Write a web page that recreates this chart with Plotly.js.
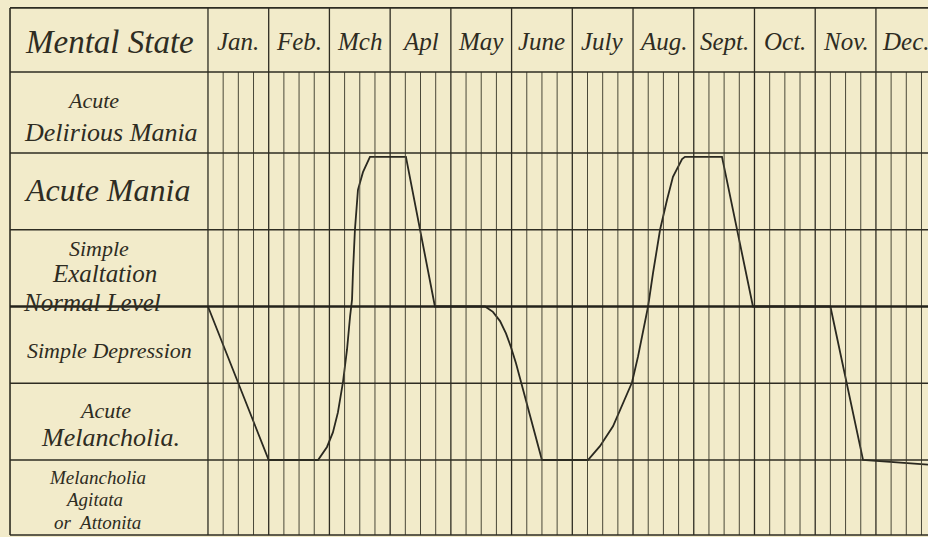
<!DOCTYPE html>
<html>
<head>
<meta charset="utf-8">
<script src="https://cdn.plot.ly/plotly-3.0.1.min.js"></script>
<style>
html,body{margin:0;padding:0;background:#f2ebca;}
#chart{width:928px;height:537px;}
</style>
</head>
<body>
<div id="chart"></div>
<script>
// ---- data (x = weeks from start of January, y = mental-state level; 0 = Normal Level) ----
const months = ['Jan.','Feb.','Mch','Apl','May','June','July','Aug.','Sept.','Oct.','Nov.','Dec.'];
const labelLines = ['Acute','Delirious Mania','Acute Mania','Simple','Exaltation','Normal Level','Simple Depression',
  'Acute','Melancholia.','Melancholia','Agitata','or  Attonita'];
const weeks = [0, 4, 7.25, 7.84, 8.23, 8.56, 8.89, 9.16, 9.36, 9.49, 9.55, 9.68, 9.88, 10.21, 10.67, 13.04, 14.95, 18.25,
  18.77, 19.24, 19.63, 19.96, 20.29, 20.55, 21.28, 22.0, 25.03, 25.82, 26.68, 27.47, 27.93, 28.33, 28.79, 28.99, 29.32,
  29.78, 30.24, 30.63, 31.23, 31.42, 33.86, 35.9, 41.0, 43.15, 47.43];
const levels = [0, -2, -2, -1.83, -1.64, -1.38, -0.99, -0.56, -0.13, 0.09, 0.44, 1.0, 1.52, 1.75, 1.95, 1.95, 0, 0,
  -0.07, -0.19, -0.35, -0.53, -0.74, -0.93, -1.47, -2, -2, -1.82, -1.56, -1.21, -0.99, -0.65, -0.21, 0, 0.44,
  1.0, 1.39, 1.69, 1.92, 1.95, 1.95, 0, 0, -2, -2.06];

// ---- table geometry (in axis units) ----
const xMin = -13.70, xMax = 47.43, yMin = -3.003, yMax = 3.993;
const leftEdge = -13.04, tableTop = 3.89, headerBottom = 3.055, tableBottom = -2.977;
const rowLines = [2, 1, -1, -2];
const headerX = -6.5, headerY = 3.45;
const lineX = [-7.58, -6.39, -6.65, -7.18, -6.79, -7.64, -6.46, -6.79, -6.39, -7.31, -7.51, -7.31];
const lineY = [2.68, 2.27, 1.52, 0.76, 0.43, 0.05, -0.57, -1.36, -1.71, -2.23, -2.52, -2.81];
const lineSize = [22, 26, 32, 22, 25, 25, 22, 22, 26, 19, 19, 19];

const ink = '#2e2c22';
const gridInk = '#4a4838';
const shapes = [];
for (let w = 1; w < 48; w++) {
  if (w % 4 === 0) continue;
  shapes.push({type:'line', xref:'x', yref:'y', x0:w, x1:w, y0:tableBottom, y1:headerBottom, line:{color:gridInk, width:1}});
}
for (let m = 0; m < 48; m += 4) {
  shapes.push({type:'line', xref:'x', yref:'y', x0:m, x1:m, y0:tableBottom, y1:tableTop, line:{color:ink, width:1.3}});
}
shapes.push({type:'line', xref:'x', yref:'y', x0:leftEdge, x1:leftEdge, y0:tableBottom, y1:tableTop, line:{color:ink, width:1.6}});
[tableTop, headerBottom, tableBottom].forEach(y => shapes.push({type:'line', xref:'x', yref:'y', x0:leftEdge, x1:xMax + 1, y0:y, y1:y, line:{color:ink, width:1.6}}));
rowLines.forEach(y => shapes.push({type:'line', xref:'x', yref:'y', x0:leftEdge, x1:xMax + 1, y0:y, y1:y, line:{color:ink, width:1.4}}));
shapes.push({type:'line', xref:'x', yref:'y', x0:leftEdge, x1:xMax + 1, y0:0, y1:0, line:{color:'#24231b', width:2.4}});

const fontFam = '"Liberation Serif", "DejaVu Serif", serif';
const annotations = [];
annotations.push({x:headerX, y:headerY, xref:'x', yref:'y', text:'Mental State', showarrow:false,
  font:{family:fontFam, size:33, color:ink, style:'italic'}});
months.forEach((m, i) => annotations.push({x:2 + 4 * i, y:headerY, xref:'x', yref:'y', text:m, showarrow:false,
  font:{family:fontFam, size:25, color:ink, style:'italic'}}));
labelLines.forEach((t, i) => annotations.push({x:lineX[i], y:lineY[i], xref:'x', yref:'y', text:t, showarrow:false,
  font:{family:fontFam, size:lineSize[i], color:ink, style:'italic'}}));

const trace = {x:weeks, y:levels, type:'scatter', mode:'lines', line:{color:'#2a2920', width:1.8}, hoverinfo:'skip', cliponaxis:false};

const layout = {
  width:928, height:537,
  margin:{l:0, r:0, t:0, b:0, pad:0},
  paper_bgcolor:'#f2ebca', plot_bgcolor:'#f2ebca',
  showlegend:false,
  xaxis:{range:[xMin, xMax], visible:false, fixedrange:true},
  yaxis:{range:[yMin, yMax], visible:false, fixedrange:true},
  shapes:shapes, annotations:annotations
};
Plotly.newPlot('chart', [trace], layout, {displayModeBar:false, staticPlot:true});
</script>
</body>
</html>
